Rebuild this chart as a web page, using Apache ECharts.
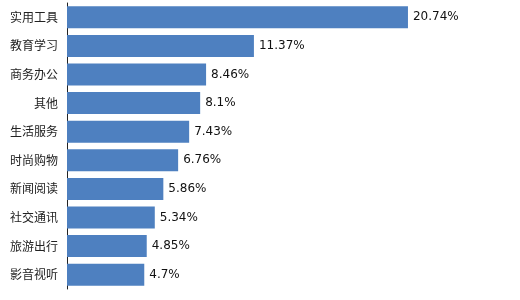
<!DOCTYPE html>
<html><head><meta charset="utf-8">
<script src="https://cdn.jsdelivr.net/npm/echarts@6/dist/echarts.min.js"></script>
<style>html,body{margin:0;padding:0;background:#fff}#c{width:520px;height:300px}</style>
</head><body><div id="c"></div>
<script>
const categories = ['实用工具','教育学习','商务办公','其他','生活服务','时尚购物','新闻阅读','社交通讯','旅游出行','影音视听'];
const values = [20.74, 11.37, 8.46, 8.1, 7.43, 6.76, 5.86, 5.34, 4.85, 4.7];
const chart = echarts.init(document.getElementById('c'));
chart.setOption({
  animation: false,
  grid: {left: 67, right: 42, top: 3, bottom: 11},
  xAxis: {type: 'value', min: 0, max: 25, show: false},
  yAxis: {
    type: 'category', inverse: true, data: categories,
    axisLine: {show: true, lineStyle: {color: '#222', width: 1}},
    axisTick: {show: false},
    axisLabel: {color: '#222', fontSize: 12, margin: 9, fontFamily: '"Noto Sans CJK SC", sans-serif'}
  },
  series: [{
    type: 'bar', data: values, barCategoryGap: '23%',
    itemStyle: {color: '#4e80c0'},
    label: {show: true, position: 'right', distance: 5, color: '#111', fontSize: 12,
      fontFamily: '"DejaVu Sans", sans-serif', formatter: p => p.value + '%'}
  }]
});
</script></body></html>
